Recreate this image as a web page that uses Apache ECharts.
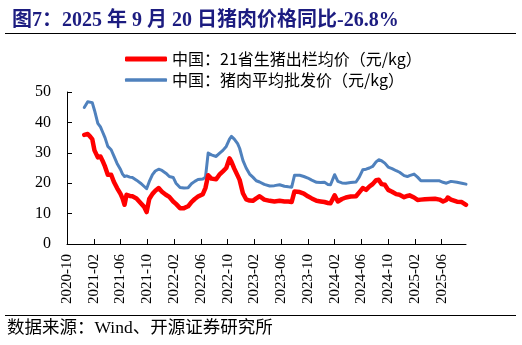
<!DOCTYPE html>
<html><head><meta charset="utf-8">
<script src="https://cdn.jsdelivr.net/npm/echarts@6/dist/echarts.min.js"></script>
<style>html,body{margin:0;padding:0;background:#fff;}#c{width:522px;height:345px;}</style>
</head><body><div id="c"></div>
<script>
var titleText = '图7：2025 年 9 月 20 日猪肉价格同比-26.8%';
var sourceText = '数据来源：Wind、开源证券研究所';
var seriesNames = ['中国：21省生猪出栏均价（元/kg）', '中国：猪肉平均批发价（元/kg）'];
var axisStart = '2020-10-01';
var tickLabels = ['2020-10','2021-02','2021-06','2021-10','2022-02','2022-06','2022-10','2023-02','2023-06','2023-10','2024-02','2024-06','2024-10','2025-02','2025-06'];
var dates = ['2020-12-19','2021-01-04','2021-01-13','2021-01-25','2021-02-04','2021-02-18','2021-03-01','2021-03-10','2021-03-22','2021-04-04',
'2021-04-19','2021-05-01','2021-05-16','2021-06-01','2021-06-10','2021-06-19','2021-06-28','2021-07-13','2021-07-25','2021-08-13',
'2021-09-01','2021-09-16','2021-09-28','2021-10-10','2021-10-25','2021-11-07','2021-11-22','2021-12-07','2021-12-25','2022-01-10',
'2022-01-28','2022-02-09','2022-02-26','2022-03-16','2022-04-04','2022-04-19','2022-05-04','2022-05-19','2022-06-10','2022-06-22',
'2022-07-04','2022-07-19','2022-08-10','2022-08-25','2022-09-10','2022-09-25','2022-10-10','2022-10-19','2022-11-01','2022-11-16',
'2022-11-25','2022-12-10','2022-12-25','2023-01-10','2023-01-25','2023-02-09','2023-02-23','2023-03-16','2023-04-10','2023-05-01',
'2023-05-25','2023-06-16','2023-07-04','2023-07-19','2023-08-01','2023-08-25','2023-09-13','2023-10-01','2023-10-19','2023-11-10',
'2023-11-28','2023-12-16','2024-01-01','2024-01-13','2024-02-01','2024-02-15','2024-03-04','2024-03-22','2024-04-13','2024-05-07',
'2024-05-22','2024-06-07','2024-06-22','2024-07-07','2024-07-22','2024-08-07','2024-08-19','2024-09-01','2024-09-16','2024-10-01',
'2024-10-19','2024-11-07','2024-11-22','2024-12-13','2024-12-28','2025-01-07','2025-01-28','2025-02-12','2025-02-26','2025-03-16',
'2025-04-07','2025-05-01','2025-05-22','2025-06-07','2025-06-22','2025-06-28','2025-07-13','2025-07-22','2025-08-10','2025-09-01',
'2025-09-20'];
var hogPrice = [35.9,36.2,35.5,34.5,30.8,28.5,28.8,27.5,25.5,22.8,
22.8,20.5,18.4,16.5,15.0,12.9,16.2,15.8,15.7,15.0,
13.5,12.3,10.5,14.8,16.5,17.5,18.4,17.2,16.2,15.5,
14.0,13.2,11.8,11.8,12.4,13.8,14.8,15.6,16.4,18.5,
22.6,21.5,21.3,22.8,23.9,25.0,28.2,27.0,24.8,22.5,
21.1,16.7,14.7,14.3,14.2,15.0,15.7,14.6,14.2,14.0,
14.2,14.0,14.0,13.8,17.3,17.1,16.6,15.7,15.0,14.2,
14.0,13.8,13.5,13.4,16.0,14.0,14.8,15.3,15.6,15.7,
17.0,18.4,17.8,18.9,19.7,21.0,21.1,19.7,19.5,17.8,
17.2,16.4,16.2,15.4,15.8,16.0,15.3,14.5,14.6,14.7,
14.8,14.9,14.6,14.0,14.5,15.3,14.6,14.0,13.9,13.8,
12.9];
var porkPrice = [44.9,46.8,47.4,46.5,44.0,39.7,38.5,37.0,35.0,32.1,
31.0,29.0,26.5,24.5,23.0,22.2,22.4,22.0,21.9,21.0,
20.0,19.0,18.2,20.5,22.8,24.0,24.6,24.2,23.3,22.2,
21.9,20.0,18.6,18.4,18.5,19.8,20.6,21.2,21.4,22.0,
29.9,29.3,28.8,29.8,30.8,32.1,34.5,35.4,34.5,33.0,
31.5,27.5,25.0,23.0,22.0,20.8,20.4,19.6,19.1,19.2,
19.5,19.0,18.8,18.7,22.6,22.6,22.2,21.7,21.0,20.3,
20.2,20.3,19.6,19.5,22.8,20.6,20.1,20.0,20.2,20.4,
22.0,24.4,24.6,25.0,25.5,27.0,27.7,27.4,26.6,25.3,
24.8,24.1,23.6,22.5,22.2,22.5,23.0,22.0,20.8,20.8,
20.8,20.8,20.8,20.3,20.0,20.3,20.6,20.5,20.3,20.0,
19.7];

function monthIndex(s) {
  var p = s.split('-').map(Number), b = axisStart.split('-').map(Number);
  var dim = new Date(p[0], p[1], 0).getDate();
  return (p[0] - b[0]) * 12 + (p[1] - b[1]) + (p[2] - 1) / dim;
}
var xs = dates.map(monthIndex);
function pairs(vals) { return vals.map(function (v, i) { return [xs[i], v]; }); }
function labelFor(v) {
  var k = v / 4;
  if (Math.abs(k - Math.round(k)) > 1e-6) return '';
  return tickLabels[Math.round(k)] || '';
}

var chart = echarts.init(document.getElementById('c'), null, {renderer: 'canvas'});
var serif = "'Liberation Serif','Times New Roman',serif";
chart.setOption({
  animation: false,
  backgroundColor: '#fff',
  title: {
    text: titleText, left: 7, top: 6,
    textStyle: {fontFamily: "'Liberation Serif','Noto Sans CJK SC'", fontWeight: 'bold', fontSize: 20, color: '#1c1c80'}
  },
  graphic: [
    {type: 'line', shape: {x1: 5, y1: 33.5, x2: 516, y2: 33.5}, style: {stroke: '#000', lineWidth: 1}},
    {type: 'line', shape: {x1: 5, y1: 315.5, x2: 516, y2: 315.5}, style: {stroke: '#000', lineWidth: 1}},
    {type: 'text', left: 7, top: 320, style: {text: sourceText, font: "17.5px 'Liberation Serif','Noto Sans CJK SC'", fill: '#000'}}
  ],
  legend: [
    {data: [seriesNames[0]], left: 120, top: 46, icon: 'roundRect', itemWidth: 42, itemHeight: 5, itemGap: 5,
     textStyle: {fontFamily: "'Noto Sans CJK SC'", fontSize: 16, color: '#000', padding: [0, 0, 0, 0]}},
    {data: [seriesNames[1]], left: 120, top: 67, icon: 'roundRect', itemWidth: 42, itemHeight: 3.5, itemGap: 5,
     textStyle: {fontFamily: "'Noto Sans CJK SC'", fontSize: 16, color: '#000'}}
  ],
  grid: {left: 67, right: 56, top: 92, bottom: 101, containLabel: false},
  xAxis: {
    type: 'value', min: 0, max: monthIndex(dates[dates.length - 1]), interval: 4,
    axisLine: {lineStyle: {color: '#000', width: 1}},
    axisTick: {inside: true, length: 5, lineStyle: {color: '#000'}},
    splitLine: {show: false},
    axisLabel: {rotate: 90, margin: 10, color: '#000', fontFamily: serif, fontSize: 15, showMaxLabel: false, formatter: labelFor}
  },
  yAxis: {
    type: 'value', min: 0, max: 50, interval: 10,
    axisLine: {show: true, lineStyle: {color: '#000', width: 1}},
    axisTick: {show: true, inside: true, length: 5, lineStyle: {color: '#000'}},
    splitLine: {show: false},
    axisLabel: {margin: 16, color: '#000', fontFamily: serif, fontSize: 16}
  },
  series: [
    {name: seriesNames[0], type: 'line', data: pairs(hogPrice), showSymbol: false, symbol: 'none',
     lineStyle: {color: '#ff0000', width: 4.5, cap: 'round', join: 'round'}, itemStyle: {color: '#ff0000'}, z: 3},
    {name: seriesNames[1], type: 'line', data: pairs(porkPrice), showSymbol: false, symbol: 'none',
     lineStyle: {color: '#4f81bd', width: 3, cap: 'round', join: 'round'}, itemStyle: {color: '#4f81bd'}, z: 2}
  ]
});
</script></body></html>
